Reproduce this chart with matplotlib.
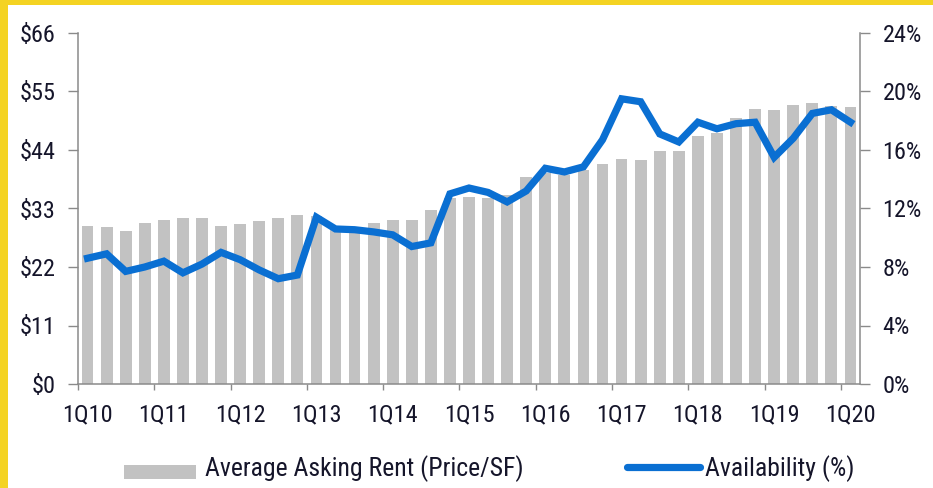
import matplotlib
matplotlib.use("Agg")
import matplotlib.pyplot as plt
from matplotlib.patches import Rectangle
from matplotlib.lines import Line2D
from matplotlib import font_manager as fm
import numpy as np

available = {f.name for f in fm.fontManager.ttflist}
font_pref = ['Roboto Condensed', 'Liberation Sans Narrow', 'Archivo Narrow',
             'IBM Plex Sans Condensed', 'Open Sans Condensed', 'Roboto']
chosen = next(f for f in font_pref if f in available)
plt.rcParams['font.family'] = [chosen, 'DejaVu Sans']

tick_labels = ["1Q10", "1Q11", "1Q12", "1Q13", "1Q14", "1Q15", "1Q16", "1Q17", "1Q18", "1Q19", "1Q20"]
rent = [29.7, 29.5, 28.8, 30.3, 30.9, 31.2, 31.2, 29.8, 30.0, 30.6, 31.2, 31.8, 31.6, 29.5,
        29.5, 30.2, 30.8, 30.8, 32.8, 34.9, 35.1, 34.9, 35.5, 39.0, 39.6, 39.3, 40.2, 41.4,
        42.4, 42.2, 43.8, 43.8, 46.6, 47.2, 50.0, 51.8, 51.5, 52.4, 52.8, 52.2, 52.1]
availability = [8.6, 8.9, 7.7, 8.0, 8.4, 7.6, 8.2, 9.0, 8.5, 7.8, 7.2, 7.45, 11.4, 10.6,
                10.55, 10.4, 10.2, 9.4, 9.65, 13.0, 13.4, 13.1, 12.45, 13.2, 14.75, 14.5, 14.85, 16.7,
                19.5, 19.3, 17.1, 16.55, 17.9, 17.45, 17.8, 17.9, 15.5, 16.8, 18.5, 18.75, 17.9]
rent_ticks = [0, 11, 22, 33, 44, 55, 66]
avail_ticks = [0, 4, 8, 12, 16, 20, 24]
legend_labels = ["Average Asking Rent (Price/SF)", "Availability (%)"]

W, H = 933, 488
fs = 17.5
fs_leg = 18.5
fig = plt.figure(figsize=(W / 100, H / 100), dpi=100, facecolor='#F4D322')
fig.add_artist(Rectangle((8 / W, 0), 1, 1 - 5 / H, transform=fig.transFigure,
                         facecolor='white', edgecolor='none', zorder=0))

ax = fig.add_axes([78 / W, 1 - 384 / H, (860 - 78) / W, (384 - 33) / H])
ax.set_facecolor('none')
x = np.arange(len(rent))
ax.bar(x, rent, width=0.62, color='#C2C2C2', zorder=2)
ax.set_xlim(-0.5, len(rent) - 0.5)
ax.set_ylim(0, 66)
ax.set_yticks(rent_ticks)
ax.set_yticklabels([f"${v}" for v in rent_ticks])

ax.set_xticks(np.arange(0, len(rent), 4))
ax.set_xticklabels(tick_labels)
ax.set_xticks(np.arange(-0.5, len(rent) - 0.5, 4), minor=True)

ax2 = ax.twinx()
ax2.plot(x, availability, color='#0A6FD2', lw=5.2, solid_joinstyle='miter', zorder=3)
ax2.set_ylim(0, 24)
ax2.set_yticks(avail_ticks)
ax2.set_yticklabels([f"{v}%" for v in avail_ticks])

spine_c = '#8A8A8A'
text_c = '#15152A'
for a in (ax, ax2):
    a.spines['top'].set_visible(False)
    for s in ('left', 'right', 'bottom'):
        a.spines[s].set_color(spine_c)
        a.spines[s].set_linewidth(1.1)
ax.spines['right'].set_visible(False)
ax2.spines['left'].set_visible(False)
ax2.spines['bottom'].set_visible(False)

ax.tick_params(axis='y', direction='out', length=7.2, width=1.0, color=spine_c,
               labelsize=fs, labelcolor=text_c, pad=9)
ax2.tick_params(axis='y', direction='out', length=7.2, width=1.0, color=spine_c,
                labelsize=fs, labelcolor=text_c, pad=9)
ax.tick_params(axis='x', which='major', length=0, labelsize=fs, labelcolor=text_c, pad=14)
ax.tick_params(axis='x', which='minor', direction='out', length=4, width=1.0, color=spine_c)

# legend
fig.add_artist(Rectangle((124 / W, 1 - 479 / H), 72 / W, 14 / H, transform=fig.transFigure,
                         facecolor='#C2C2C2', edgecolor='none'))
fig.text(205 / W, 1 - 469 / H, legend_labels[0], fontsize=fs_leg,
         color=text_c, va='center', ha='left')
fig.add_artist(Line2D([627 / W, 700 / W], [1 - 467 / H, 1 - 467 / H], transform=fig.transFigure,
                      color='#0A6FD2', lw=5.2, solid_capstyle='round'))
fig.text(705 / W, 1 - 469 / H, legend_labels[1], fontsize=fs_leg,
         color=text_c, va='center', ha='left')

fig.savefig("out.png", dpi=100, facecolor=fig.get_facecolor())
